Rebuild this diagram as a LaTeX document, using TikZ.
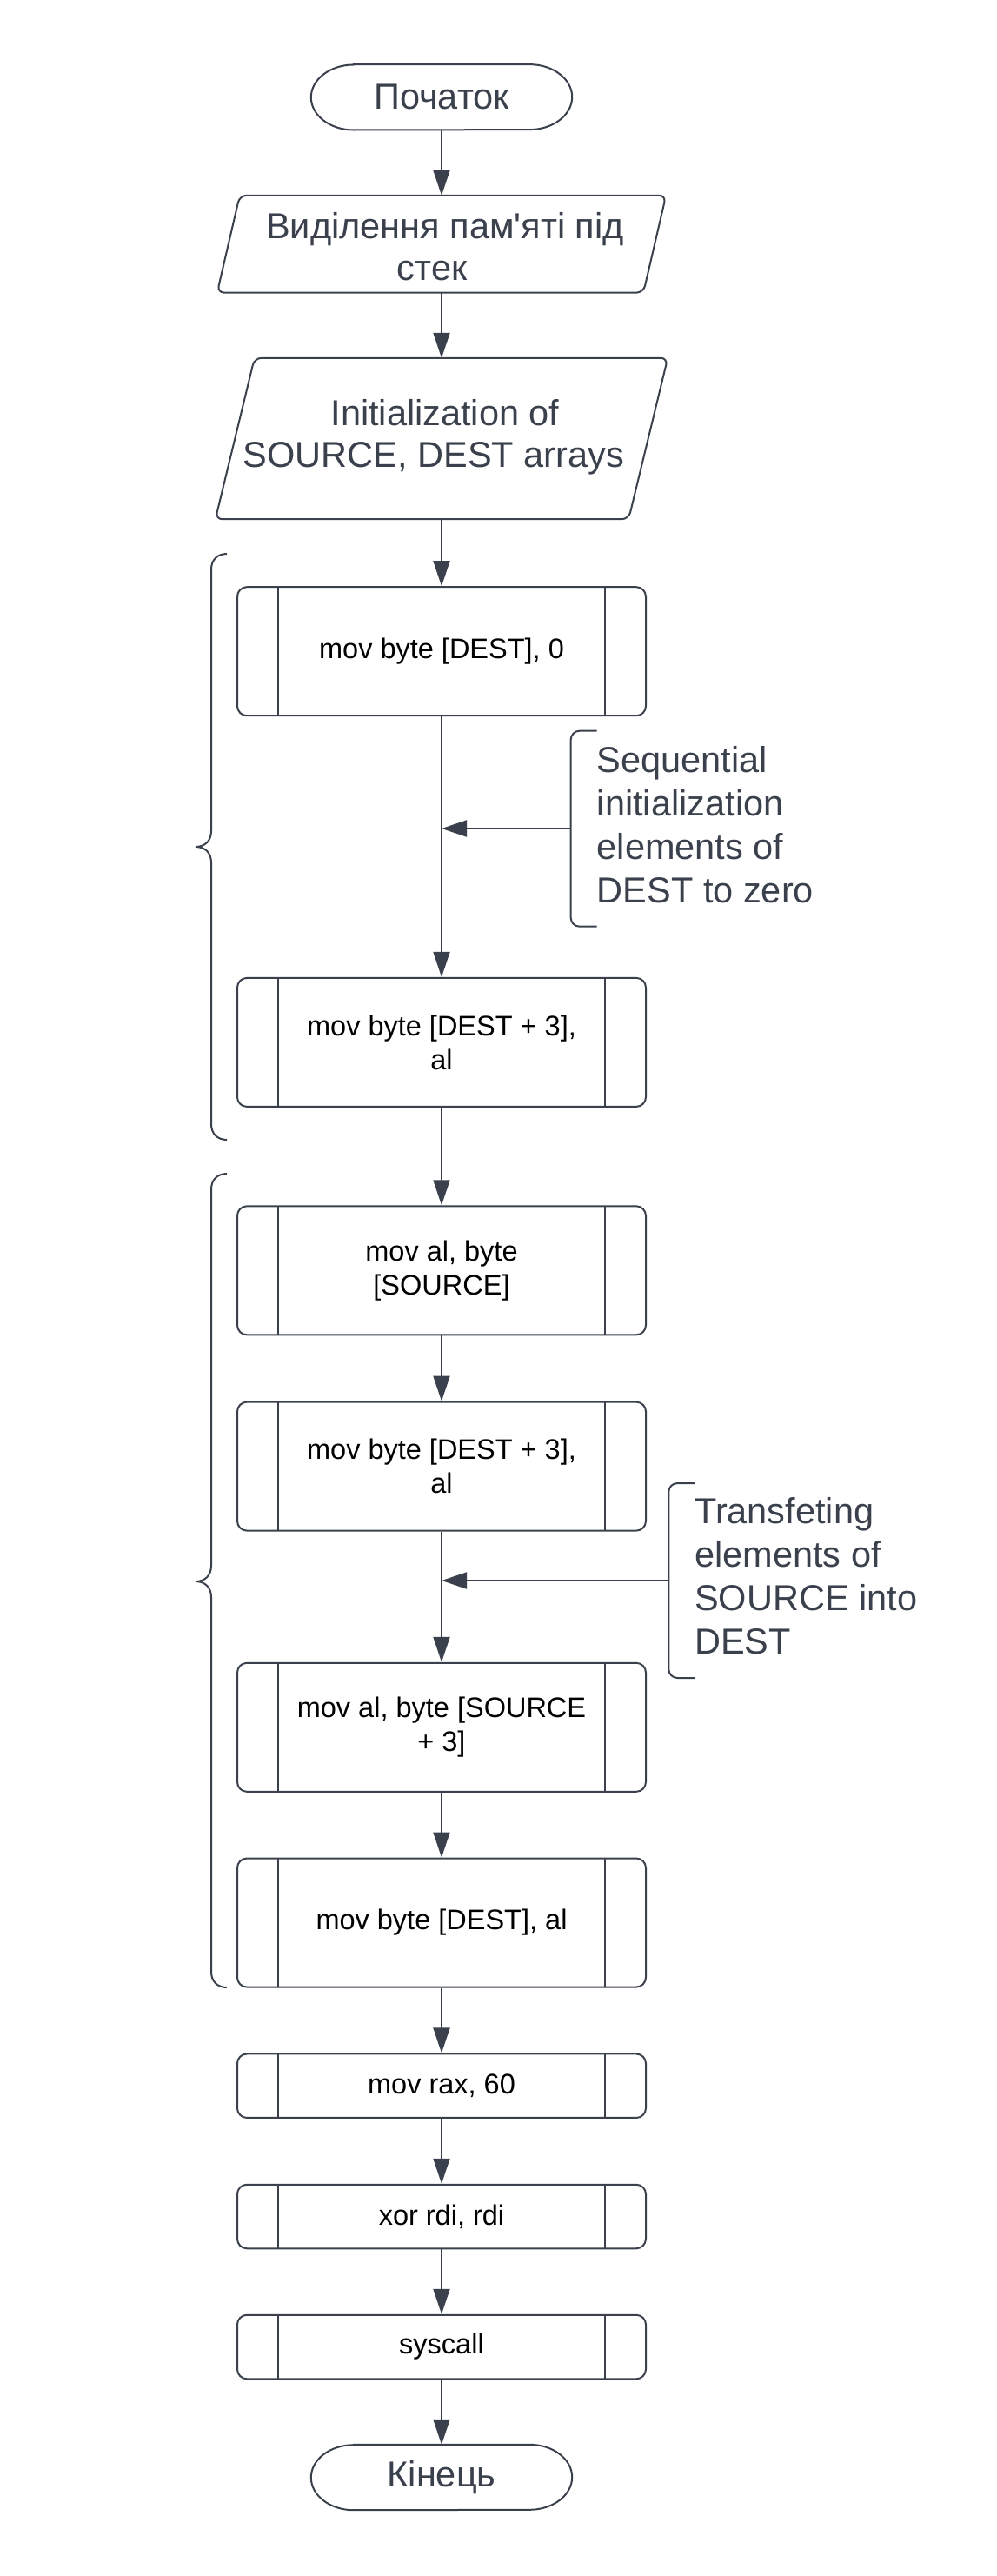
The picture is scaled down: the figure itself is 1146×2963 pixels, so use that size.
\documentclass[tikz,border=0pt]{standalone}
\usepackage{fontspec}
\setmainfont{Liberation Sans}
\newfontfamily\lsans{Liberation Sans}
\usetikzlibrary{arrows.meta}
\definecolor{ink}{RGB}{58,65,76}
\begin{document}
\begin{tikzpicture}[x=1pt,y=-1pt,
  ln/.style={draw=ink, line width=2pt},
  arr/.style={ln, -{Triangle[length=29pt,width=19pt]}},
  term/.style={inner sep=0pt, minimum width=300pt, minimum height=75pt, font=\lsans\fontsize{41.5}{48}\selectfont, text=ink},
  para/.style={inner sep=0pt, align=center, font=\lsans\fontsize{41.5}{48}\selectfont, text=ink},
  proc/.style={draw=ink, line width=2pt, rounded corners=11pt, minimum width=470pt, minimum height=148pt, inner sep=0pt, align=center, font=\lsans\fontsize{32.5}{39}\selectfont, text=black,
    path picture={\draw[draw=ink,line width=2pt]
      ([xshift=47pt]path picture bounding box.north west) -- ([xshift=47pt]path picture bounding box.south west)
      ([xshift=-47pt]path picture bounding box.north east) -- ([xshift=-47pt]path picture bounding box.south east);}},
  procs/.style={proc, minimum height=73.5pt},
  note/.style={inner sep=0pt, align=left, anchor=north west, font=\lsans\fontsize{41.5}{50}\selectfont, text=ink}
]
\useasboundingbox (0,0) rectangle (1146,2963);

% terminals
\node[term] (start) at (508,111.8) {Початок};
\draw[ln] ([xshift=49pt]start.north west) -- ([xshift=-49pt]start.north east)
  arc[start angle=90,end angle=-90,x radius=49pt,y radius=37.5pt]
  -- ([xshift=49pt]start.south west)
  arc[start angle=270,end angle=90,x radius=49pt,y radius=37.5pt] -- cycle;

% parallelograms
\node[para, minimum width=490pt, minimum height=111.4pt] (p1) at (508,280.7) {};
\node[para] (p1t) at (504.5,284) {\hspace*{15pt}Виділення пам'яті під\\стек\hspace*{15pt}};
\draw[ln, rounded corners=8pt] ([xshift=13pt]p1.north west) -- ([xshift=13pt]p1.north east)
  -- ([xshift=-13pt]p1.south east) -- ([xshift=-13pt]p1.south west) -- cycle;

\node[para, minimum width=475pt, minimum height=185pt] (p2) at (508,504.5) {};
\node[para] (p2t) at (505.5,503) {\hspace*{13pt}Initialization of\\SOURCE, DEST arrays\hspace*{13pt}};
\draw[ln, rounded corners=8pt] ([xshift=22.5pt]p2.north west) -- ([xshift=22.5pt]p2.north east)
  -- ([xshift=-22.5pt]p2.south east) -- ([xshift=-22.5pt]p2.south west) -- cycle;

% process boxes
\node[proc] (b1) at (508,749.2) {mov byte [DEST], 0};
\node[proc] (b2) at (508,1198.9) {mov byte [DEST + 3],\\al};
\node[proc] (b3) at (508,1461.3) {mov al, byte\\{}[SOURCE]};
\node[proc] (b4) at (508,1686.6) {mov byte [DEST + 3],\\al};
\node[proc] (b5) at (508,1986.8) {mov al, byte [SOURCE\\+ 3]};
\node[proc] (b6) at (508,2211.5) {mov byte [DEST], al};
\node[procs] (b7) at (508,2399.2) {mov rax, 60};
\node[procs] (b8) at (508,2549.5) {xor rdi, rdi};
\node[procs] (b9) at (508,2699.5) {syscall};

\node[term] (end) at (508,2849.5) {Кінець};
\draw[ln] ([xshift=49pt]end.north west) -- ([xshift=-49pt]end.north east)
  arc[start angle=90,end angle=-90,x radius=49pt,y radius=37.5pt]
  -- ([xshift=49pt]end.south west)
  arc[start angle=270,end angle=90,x radius=49pt,y radius=37.5pt] -- cycle;

% main flow
\draw[arr] (start.south) -- (p1.north);
\draw[arr] (p1.south) -- (p2.north);
\draw[arr] (p2.south) -- (b1.north);
\draw[arr] (b1.south) -- (b2.north);
\draw[arr] (b2.south) -- (b3.north);
\draw[arr] (b3.south) -- (b4.north);
\draw[arr] (b4.south) -- (b5.north);
\draw[arr] (b5.south) -- (b6.north);
\draw[arr] (b6.south) -- (b7.north);
\draw[arr] (b7.south) -- (b8.north);
\draw[arr] (b8.south) -- (b9.north);
\draw[arr] (b9.south) -- (end.north);

% annotations
\node[note] (ann1) at (686.7,858) {Sequential\\initialization\\elements of\\DEST to zero};
\draw[ln, rounded corners=10pt] (686.7,840.7) -- (656.7,840.7) -- (656.7,1065.7) -- (686.7,1065.7);
\coordinate (a1) at (656.7,953);
\draw[arr] (a1) -- (a1 -| b1.south);

\node[note] (ann2) at (799,1722) {Transfeting\\elements of\\SOURCE into\\DEST};
\draw[ln, rounded corners=10pt] (799,1706) -- (769.3,1706) -- (769.3,1930) -- (799,1930);
\coordinate (a2) at (769.3,1818);
\draw[arr] (a2) -- (a2 -| b4.south);

% left braces
\draw[ln] (261,637) .. controls (250,637) and (243,644) .. (243,655) -- (243,956)
  .. controls (243,967) and (236,974) .. (225,974) .. controls (236,974) and (243,981) .. (243,992)
  -- (243,1293) .. controls (243,1304) and (250,1311) .. (261,1311);
\draw[ln] (261,1350) .. controls (250,1350) and (243,1357) .. (243,1368) -- (243,1801)
  .. controls (243,1812) and (236,1819) .. (225,1819) .. controls (236,1819) and (243,1826) .. (243,1837)
  -- (243,2268) .. controls (243,2279) and (250,2286) .. (261,2286);
\end{tikzpicture}
\end{document}
